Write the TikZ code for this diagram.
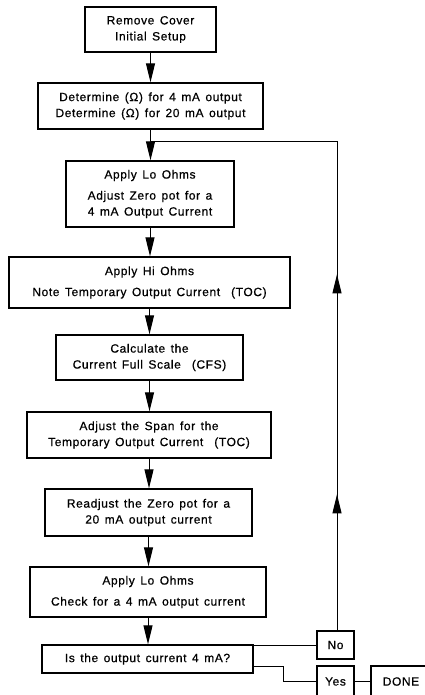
\documentclass[tikz,border=0pt]{standalone}
\usepackage{fontspec}
\setmainfont{Liberation Sans}[LetterSpace=5,WordSpace=1.4,FakeBold=0.6]
\usetikzlibrary{arrows.meta,decorations.markings}
\begin{document}
\begin{tikzpicture}[x=1pt,y=-1pt,
  box/.style={draw,line width=1.3pt,inner sep=0pt,align=center,font=\fontsize{12}{16}\selectfont},
  flow/.style={line width=1pt,-{Triangle[length=19pt,width=9pt]}},
  conn/.style={line width=1pt}]
\useasboundingbox (0,0) rectangle (424,695);
\node[box,minimum width=131pt,minimum height=45pt] (b1) at (150.5,29.5) {Remove Cover\\Initial Setup};
\node[box,minimum width=225pt,minimum height=46pt] (b2) at (150.5,106) {Determine (Ω) for 4 mA output\\Determine (Ω) for 20 mA output};
\node[box,minimum width=168pt,minimum height=66pt] (b3) at (150,194) {Apply Lo Ohms\\[5pt]Adjust Zero pot for a\\4 mA Output Current};
\node[box,minimum width=281pt,minimum height=51pt] (b4) at (149.5,282.5) {Apply Hi Ohms\\[5pt]Note Temporary Output Current\ \ (TOC)};
\node[box,minimum width=187pt,minimum height=45pt] (b5) at (149.5,357.5) {Calculate the\\Current Full Scale\ \ (CFS)};
\node[box,minimum width=244pt,minimum height=46pt] (b6) at (149,435) {Adjust the Span for the\\Temporary Output Current\ \ (TOC)};
\node[box,minimum width=207pt,minimum height=47pt] (b7) at (148.5,512.5) {Readjust the Zero pot for a\\20 mA output current};
\node[box,minimum width=236pt,minimum height=50pt] (b8) at (148,592) {Apply Lo Ohms\\[5pt]Check for a 4 mA output current};
\node[box,minimum width=211pt,minimum height=28pt] (b9) at (147.5,659) {Is the output current 4 mA?};
\node[box,minimum width=37pt,minimum height=28pt] (no) at (335.5,645) {No};
\node[box,minimum width=37pt,minimum height=31pt] (yes) at (335.5,681.5) {Yes};
\node[box,minimum width=60pt,minimum height=31pt] (done) at (401,681.5) {DONE};
\coordinate (loopR) at (337,142);
\coordinate (loopL) at (b2.south |- 0,142);
\coordinate (yk1) at (283,666);
\coordinate (yk2) at (283,681.5);
\draw[flow] (b1) -- (b1.south |- b2.north);
\draw[flow] (b2) -- (b2.south |- b3.north);
\draw[flow] (b3) -- (b3.south |- b4.north);
\draw[flow] (b4) -- (b4.south |- b5.north);
\draw[flow] (b5) -- (b5.south |- b6.north);
\draw[flow] (b6) -- (b6.south |- b7.north);
\draw[flow] (b7) -- (b7.south |- b8.north);
\draw[flow] (b8) -- (b8.south |- b9.north);
\draw[conn] (b9.east |- no.west) -- (no.west);
\draw[conn,postaction={decorate},decoration={markings,
   mark=at position 136pt with {\arrow{Triangle[length=19pt,width=9pt]}},
   mark=at position 356pt with {\arrow{Triangle[length=19pt,width=9pt]}}}]
   (loopR |- no.north) -- (loopR) -- (loopL);
\draw[conn] (b9.east |- yk1) -- (yk1) -- (yk2) -- (yes.west);
\draw[conn] (yes.east) -- (done.west);
\end{tikzpicture}
\end{document}
